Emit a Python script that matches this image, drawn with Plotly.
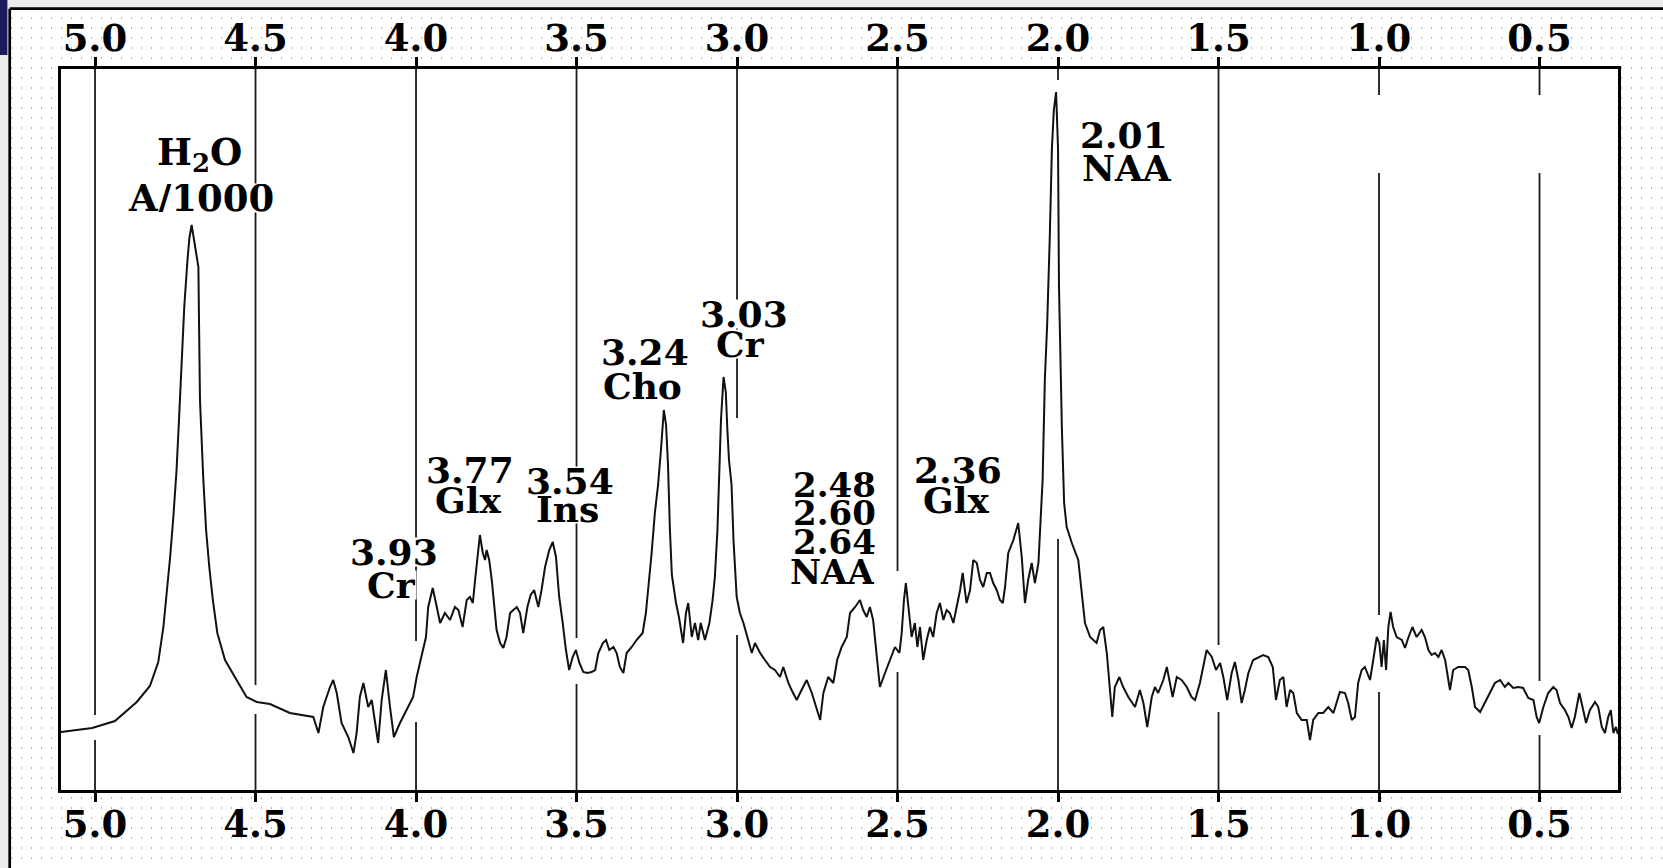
import numpy as np
import plotly.graph_objects as go

# ---------------- data ----------------
shift_ppm = [
    5.106, 5.009, 4.938, 4.870, 4.829, 4.803, 4.787, 4.775, 4.766, 4.756, 4.746, 4.738, 4.730, 4.722, 4.712, 4.706,
    4.699, 4.692, 4.684, 4.678, 4.676, 4.673, 4.663, 4.654, 4.644, 4.633, 4.619, 4.595, 4.559, 4.528, 4.496, 4.455,
    4.393, 4.320, 4.304, 4.289, 4.268, 4.258, 4.247, 4.232, 4.211, 4.195, 4.185, 4.175, 4.164, 4.149, 4.138, 4.128,
    4.118, 4.107, 4.094, 4.081, 4.069, 4.050, 4.029, 4.009, 3.998, 3.982, 3.969, 3.962, 3.948, 3.938, 3.925, 3.910,
    3.894, 3.879, 3.868, 3.855, 3.842, 3.832, 3.823, 3.816, 3.809, 3.801, 3.792, 3.785, 3.780, 3.772, 3.764, 3.757,
    3.749, 3.738, 3.728, 3.718, 3.707, 3.697, 3.686, 3.676, 3.666, 3.653, 3.643, 3.632, 3.619, 3.609, 3.598, 3.585,
    3.574, 3.564, 3.554, 3.543, 3.533, 3.523, 3.512, 3.502, 3.491, 3.479, 3.466, 3.453, 3.442, 3.432, 3.418, 3.408,
    3.398, 3.385, 3.375, 3.365, 3.354, 3.344, 3.328, 3.313, 3.294, 3.284, 3.276, 3.266, 3.256, 3.246, 3.237, 3.228,
    3.221, 3.215, 3.209, 3.203, 3.190, 3.181, 3.168, 3.159, 3.152, 3.141, 3.131, 3.121, 3.113, 3.100, 3.086, 3.076,
    3.069, 3.061, 3.055, 3.050, 3.042, 3.035, 3.030, 3.025, 3.017, 3.011, 3.001, 2.991, 2.980, 2.965, 2.954, 2.944,
    2.928, 2.913, 2.897, 2.882, 2.866, 2.856, 2.840, 2.830, 2.814, 2.799, 2.783, 2.767, 2.752, 2.741, 2.731, 2.716,
    2.700, 2.688, 2.674, 2.658, 2.648, 2.632, 2.617, 2.607, 2.596, 2.586, 2.576, 2.565, 2.555, 2.539, 2.523, 2.508,
    2.494, 2.487, 2.480, 2.474, 2.466, 2.456, 2.446, 2.438, 2.430, 2.420, 2.409, 2.399, 2.389, 2.378, 2.368, 2.357,
    2.347, 2.337, 2.326, 2.316, 2.305, 2.297, 2.285, 2.274, 2.264, 2.253, 2.243, 2.233, 2.222, 2.212, 2.202, 2.191,
    2.181, 2.172, 2.165, 2.155, 2.139, 2.124, 2.113, 2.103, 2.093, 2.082, 2.072, 2.061, 2.054, 2.048, 2.041, 2.034,
    2.026, 2.019, 2.013, 2.006, 2.000, 1.997, 1.988, 1.981, 1.973, 1.957, 1.937, 1.926, 1.916, 1.900, 1.880, 1.869,
    1.859, 1.848, 1.838, 1.831, 1.823, 1.809, 1.797, 1.781, 1.760, 1.745, 1.734, 1.722, 1.708, 1.698, 1.688, 1.672,
    1.661, 1.653, 1.643, 1.630, 1.615, 1.599, 1.584, 1.573, 1.558, 1.537, 1.521, 1.508, 1.495, 1.485, 1.473, 1.459,
    1.449, 1.438, 1.428, 1.418, 1.407, 1.392, 1.376, 1.361, 1.345, 1.331, 1.321, 1.309, 1.298, 1.288, 1.277, 1.267,
    1.256, 1.241, 1.225, 1.215, 1.205, 1.189, 1.174, 1.158, 1.142, 1.132, 1.122, 1.106, 1.096, 1.085, 1.075, 1.065,
    1.054, 1.044, 1.028, 1.018, 1.007, 0.999, 0.992, 0.985, 0.978, 0.971, 0.964, 0.956, 0.945, 0.929, 0.919, 0.909,
    0.896, 0.883, 0.867, 0.857, 0.846, 0.836, 0.826, 0.815, 0.805, 0.794, 0.784, 0.779, 0.769, 0.753, 0.732, 0.722,
    0.711, 0.701, 0.685, 0.670, 0.654, 0.639, 0.623, 0.608, 0.597, 0.582, 0.566, 0.551, 0.535, 0.519, 0.509, 0.501,
    0.488, 0.473, 0.457, 0.447, 0.436, 0.421, 0.410, 0.400, 0.390, 0.376, 0.366, 0.355, 0.343, 0.327, 0.317, 0.306,
    0.296, 0.286, 0.278, 0.270, 0.262, 0.256,
]
intensity = [
    5.8, 6.2, 6.9, 8.8, 10.4, 12.8, 16.3, 20.0, 23.3, 27.3, 32.0, 37.3, 43.0, 48.3, 53.0, 55.2,
    56.5, 55.0, 53.2, 52.3, 46.7, 39.0, 31.3, 26.0, 22.3, 19.0, 15.7, 13.0, 11.0, 9.3, 8.8, 8.6,
    7.7, 7.3, 5.7, 8.3, 10.3, 11.0, 9.7, 6.7, 5.3, 3.7, 5.7, 9.3, 10.7, 8.3, 9.0, 7.0,
    4.7, 9.0, 12.0, 8.3, 5.3, 6.7, 8.0, 9.3, 11.3, 13.7, 15.3, 18.3, 20.2, 18.7, 16.7, 17.7,
    17.0, 18.3, 18.0, 16.3, 19.0, 19.3, 18.7, 21.0, 23.3, 25.5, 23.7, 23.0, 24.0, 23.0, 21.0, 18.3,
    16.0, 14.7, 14.2, 15.3, 17.7, 18.0, 18.3, 17.7, 15.7, 18.3, 19.5, 20.0, 18.3, 20.0, 22.3, 24.0,
    24.8, 23.3, 19.3, 16.7, 14.0, 12.0, 13.3, 14.0, 12.7, 11.8, 11.7, 11.8, 12.0, 13.7, 14.7, 15.0,
    14.0, 14.3, 13.7, 12.3, 11.7, 13.7, 14.3, 15.0, 15.7, 17.7, 20.3, 23.7, 27.7, 30.5, 34.0, 38.0,
    36.5, 32.5, 26.0, 21.5, 18.7, 17.3, 14.7, 17.7, 18.7, 15.3, 16.7, 15.0, 16.7, 15.0, 16.7, 19.0,
    21.3, 26.0, 32.0, 37.0, 41.3, 39.8, 36.0, 33.0, 30.5, 25.0, 19.3, 17.7, 16.7, 15.0, 13.7, 14.7,
    13.7, 13.0, 12.3, 12.0, 11.3, 12.3, 10.7, 10.0, 9.0, 10.0, 11.0, 9.7, 8.0, 7.0, 9.7, 11.3,
    10.7, 13.0, 14.3, 15.3, 17.7, 18.3, 19.0, 18.0, 17.3, 18.3, 17.0, 13.7, 10.3, 11.7, 13.0, 14.3,
    13.7, 15.7, 19.0, 20.7, 18.3, 15.3, 16.7, 14.3, 16.3, 13.0, 15.0, 16.3, 15.3, 17.7, 18.7, 17.0,
    18.0, 17.7, 16.7, 18.3, 20.0, 21.7, 18.7, 20.0, 23.0, 22.7, 21.0, 20.3, 21.7, 21.7, 20.7, 20.0,
    19.0, 18.7, 20.3, 23.7, 25.0, 26.7, 23.3, 18.7, 21.0, 22.7, 20.7, 22.7, 27.0, 31.0, 41.1, 46.4,
    54.9, 64.2, 68.0, 69.8, 64.2, 50.4, 36.2, 28.7, 26.3, 24.7, 23.0, 19.3, 16.7, 15.3, 14.7, 16.0,
    16.3, 13.7, 9.7, 7.3, 10.3, 11.3, 10.3, 9.3, 8.3, 10.0, 8.7, 6.3, 9.3, 10.3, 9.7, 11.0,
    12.3, 11.0, 9.3, 11.3, 11.0, 10.3, 9.3, 9.0, 10.7, 14.0, 13.3, 12.0, 12.7, 11.3, 9.0, 11.7,
    12.8, 11.0, 8.7, 10.0, 11.7, 13.0, 13.3, 13.5, 13.3, 12.3, 9.0, 11.0, 11.3, 8.3, 10.0, 9.7,
    7.7, 7.0, 7.0, 5.0, 7.0, 7.7, 7.7, 8.3, 7.7, 8.7, 9.8, 9.7, 8.7, 7.0, 7.3, 10.7,
    12.0, 12.3, 11.0, 13.0, 15.3, 14.7, 12.3, 15.0, 12.0, 16.3, 17.8, 16.3, 15.3, 15.0, 14.2, 15.2,
    16.3, 15.3, 16.0, 15.3, 14.0, 13.5, 13.7, 13.3, 14.0, 13.0, 10.7, 10.0, 12.0, 12.3, 12.3, 12.0,
    10.3, 8.3, 7.8, 8.7, 9.8, 10.7, 11.0, 10.3, 10.7, 10.2, 10.3, 10.2, 9.2, 9.0, 7.3, 6.7,
    8.3, 9.7, 10.3, 10.0, 8.7, 8.0, 7.3, 6.2, 7.3, 9.7, 8.3, 6.7, 8.0, 8.8, 8.3, 6.3,
    5.7, 7.3, 8.0, 5.7, 6.3, 5.6,
]

tick_vals = [5.0, 4.5, 4.0, 3.5, 3.0, 2.5, 2.0, 1.5, 1.0, 0.5]
tick_text = ["5.0", "4.5", "4.0", "3.5", "3.0", "2.5", "2.0", "1.5", "1.0", "0.5"]

label_text = ["H<sub>2</sub>O", "A/1000", "3.93", "Cr", "3.77", "Glx", "3.54", "Ins",
              "3.24", "Cho", "3.03", "Cr", "2.48", "2.60", "2.64", "NAA",
              "2.36", "Glx", "2.01", "NAA"]
label_ppm = [4.676, 4.671, 4.069, 4.076, 3.832, 3.838, 3.520, 3.527,
             3.288, 3.293, 2.978, 2.989, 2.695, 2.695, 2.695, 2.703,
             2.3125, 2.319, 1.794, 1.784]
label_int = [63.6, 59.2, 23.85, 20.5, 32.0, 29.0, 30.95, 28.15,
             43.85, 40.4, 47.65, 44.6, 30.55, 27.75, 24.8, 21.85,
             32.0, 29.05, 65.5, 62.2]
label_size = [37, 37, 36, 36, 36, 36, 36, 36,
              36, 36, 36, 36, 34, 34, 34, 34,
              36, 36, 36, 36]

# ---------------- layout constants ----------------
W, H = 1663, 868
X_RANGE = [5.106, 0.2555]
Y_RANGE = [0, 72.1]
box_l, box_r, box_t, box_b = 61, 1618, 69, 790
FONT = "DejaVu Serif"

ppm_a = np.array(shift_ppm)
int_a = np.array(intensity)
order = np.argsort(ppm_a)

# gridlines, interrupted where the spectrum crosses them
gx, gy = [], []
for g in tick_vals:
    near = int_a[np.abs(ppm_a - g) <= 0.03]
    at = np.interp(g, ppm_a[order], int_a[order])
    vals = np.append(near, at)
    lo, hi = vals.min() - 1.2, vals.max() + 1.2
    gx += [g, g, None, g, g, None]
    gy += [Y_RANGE[0], lo, None, hi, Y_RANGE[1], None]

fig = go.Figure()

# invisible helpers so that every axis is drawn
fig.add_trace(go.Scatter(x=[0], y=[0], xaxis="x", yaxis="y", mode="markers",
                         marker=dict(opacity=0), hoverinfo="skip", showlegend=False))
fig.add_trace(go.Scatter(x=[tick_vals[0]], y=[Y_RANGE[0]], xaxis="x3", yaxis="y2", mode="markers",
                         marker=dict(opacity=0), hoverinfo="skip", showlegend=False))

fig.add_trace(go.Scatter(x=gx, y=gy, xaxis="x2", yaxis="y2", mode="lines",
                         line=dict(color="#1a1a1a", width=1.8),
                         hoverinfo="skip", showlegend=False))

fig.add_trace(go.Scatter(x=shift_ppm, y=intensity, xaxis="x2", yaxis="y2", mode="lines",
                         line=dict(color="#111111", width=2),
                         showlegend=False, name="spectrum"))

tickfont = dict(family=FONT, size=37, color="black", weight="bold")
common_x = dict(range=X_RANGE, tickvals=tick_vals, ticktext=tick_text,
                ticks="outside", ticklen=9, tickwidth=3, tickcolor="black",
                showline=True, linewidth=3, linecolor="black",
                showgrid=False, zeroline=False, tickfont=tickfont, fixedrange=True,
                ticklabelstandoff=-9)

fig.update_layout(
    width=W, height=H, autosize=False,
    margin=dict(l=0, r=0, t=0, b=0, pad=0),
    paper_bgcolor="#ebebeb", plot_bgcolor="white",
    xaxis=dict(domain=[10.5 / W, 1], range=[0, 1], visible=False, fixedrange=True),
    yaxis=dict(domain=[0, 1 - 9.8 / H], range=[0, H - 9.8], dtick=10, tick0=0,
               showgrid=True, gridcolor="#b5b5b5", gridwidth=1.5, griddash="1.5px,8.5px",
               showticklabels=False, ticks="", showline=False, zeroline=False, fixedrange=True),
    xaxis2=dict(domain=[box_l / W, box_r / W], anchor="y2", side="bottom", **common_x),
    xaxis3=dict(overlaying="x2", anchor="y2", side="top", **common_x),
    yaxis2=dict(domain=[(H - box_b) / H, (H - box_t) / H], anchor="x2", range=Y_RANGE,
                showline=True, mirror=True, linewidth=3, linecolor="black",
                ticks="", showticklabels=False, showgrid=False, zeroline=False, fixedrange=True),
    showlegend=False,
)

# white empty box (top right) and the slide frame
fig.add_shape(type="rect", xref="x2", yref="y2", x0=1.26, x1=0.27, y0=61.7, y1=69.5,
              fillcolor="white", line=dict(width=0), layer="above")
fig.add_shape(type="rect", xref="paper", yref="paper", x0=0, x1=7.4 / W, y0=1 - 55 / H, y1=1,
              fillcolor="#1b1b5c", line=dict(width=0), layer="above")
fig.add_shape(type="line", xref="paper", yref="paper", x0=9.7 / W, x1=9.7 / W, y0=-0.01, y1=1 - 8.7 / H,
              line=dict(color="black", width=2.7), layer="above")
fig.add_shape(type="line", xref="paper", yref="paper", x0=9.7 / W, x1=1.01, y0=1 - 8.7 / H, y1=1 - 8.7 / H,
              line=dict(color="black", width=2.7), layer="above")

for t, xp, yv, fs in zip(label_text, label_ppm, label_int, label_size):
    box_h = int(fs * 1.25) if "<sub>" in t else int(fs * 0.78)
    fig.add_annotation(x=xp, y=yv, xref="x2", yref="y2", text=t, showarrow=False,
                       xanchor="center", yanchor="middle", bgcolor="white", borderpad=0,
                       height=box_h, valign="middle",
                       font=dict(family=FONT, size=fs, color="black", weight="bold"))

fig.write_html("out.html", config={"displayModeBar": False, "staticPlot": True},
               post_script="document.body.style.margin='0';document.body.style.overflow='hidden';")
